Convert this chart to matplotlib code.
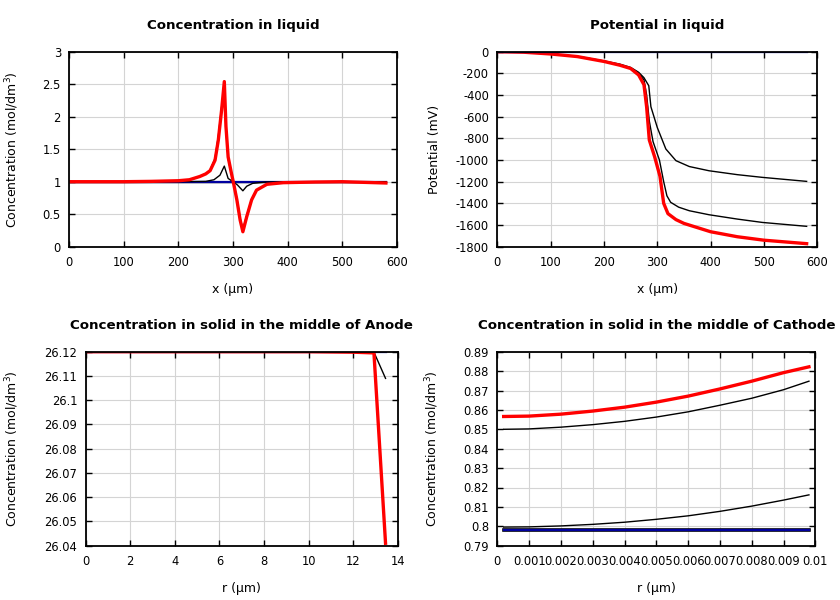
import matplotlib
matplotlib.use("Agg")
import matplotlib.pyplot as plt
from matplotlib.ticker import FuncFormatter, MultipleLocator

# --- concentration in liquid (mol/dm3) vs x (um)
LIQ_X_BLUE = [0, 580]
LIQ_C_BLUE = [1.0, 1.0]
LIQ_X_T1 = [0, 200, 250, 265, 276, 284, 291, 300, 308, 318, 325, 336, 360, 580]
LIQ_C_T1 = [1.0, 1.0, 1.005, 1.03, 1.10, 1.24, 1.05, 1.0, 0.95, 0.86, 0.93, 0.975, 0.995, 1.0]
LIQ_X_RED = [0, 100, 150, 200, 220, 239, 250, 258, 267, 273, 279, 284, 287, 291,
             297, 301, 307, 313, 318, 325, 334, 343, 362, 392, 450, 500, 580]
LIQ_C_T2 = [1.0, 1.0, 1.005, 1.015, 1.03, 1.08, 1.12, 1.18, 1.36, 1.70, 2.15, 2.45, 1.80, 1.35,
            1.12, 0.98, 0.74, 0.44, 0.27, 0.48, 0.73, 0.87, 0.96, 0.985, 0.995, 1.0, 0.985]
LIQ_C_RED = [1.0, 1.0, 1.005, 1.015, 1.03, 1.08, 1.12, 1.17, 1.33, 1.64, 2.10, 2.54, 1.85, 1.38,
             1.13, 0.975, 0.72, 0.41, 0.23, 0.46, 0.72, 0.87, 0.96, 0.985, 0.995, 1.0, 0.98]

# --- potential in liquid (mV)
POT_X_BLUE = [0, 580]
POT_V_BLUE = [0, 0]
POT_X_T1 = [0, 50, 100, 150, 200, 230, 250, 265, 275, 284, 288, 300, 316, 335, 360, 397, 450, 497, 580]
POT_V_T1 = [0, -5, -20, -42, -85, -115, -145, -190, -240, -314, -508, -700, -898, -1006,
            -1060, -1099, -1135, -1160, -1197]
POT_X_T2 = [0, 50, 100, 150, 200, 230, 250, 265, 275, 280, 285, 292, 304, 312, 318, 325,
            340, 360, 397, 450, 497, 580]
POT_V_T2 = [0, -5, -21, -44, -88, -120, -152, -200, -260, -400, -640, -830, -1000, -1200,
            -1330, -1390, -1435, -1468, -1505, -1545, -1576, -1612]
POT_X_RED = [0, 50, 100, 150, 200, 230, 250, 265, 275, 280, 285, 295, 305, 312, 320, 335,
             350, 400, 450, 500, 580]
POT_V_RED = [0, -5, -21, -45, -90, -125, -155, -215, -305, -510, -815, -970, -1150, -1400,
             -1495, -1550, -1585, -1662, -1708, -1740, -1772]

# --- anode particle centre concentration vs r (um)
AN_R = [0, 2, 4, 6, 8, 10, 12, 12.93, 13.45]
AN_C_BLUE = [26.12] * 9
AN_C_T1 = [26.12, 26.12, 26.12, 26.12, 26.12, 26.12, 26.12, 26.1198, 26.109]
AN_C_RED = [26.12, 26.12, 26.12, 26.12, 26.12, 26.12, 26.1198, 26.1195, 26.041]

# --- cathode particle centre concentration vs r (um)
CA_R = [0.0002, 0.001, 0.002, 0.003, 0.004, 0.005, 0.006, 0.007, 0.008, 0.009, 0.0098]
CA_C_BLUE = [0.798] * 11
CA_C_T1 = [0.7996, 0.7997, 0.8002, 0.8010, 0.8021, 0.8036, 0.8054, 0.8077, 0.8104, 0.8135, 0.8162]
CA_C_T2 = [0.8500, 0.8502, 0.8511, 0.8524, 0.8541, 0.8563, 0.8590, 0.8624, 0.8660, 0.8704, 0.8748]
CA_C_RED = [0.8566, 0.8568, 0.8578, 0.8594, 0.8614, 0.8640, 0.8671, 0.8708, 0.8748, 0.8792, 0.8822]

BLUE = "#00009f"
FS = 8.3
plt.rcParams["font.family"] = "DejaVu Sans"
plt.rcParams["font.size"] = FS

fmt = FuncFormatter(lambda v, p: "%g" % round(v, 6))

fig = plt.figure(figsize=(8.4, 6.0), dpi=100)
W, H = 840.0, 600.0


def make_ax(l, r, t, b):
    return fig.add_axes([l / W, 1 - b / H, (r - l) / W, (b - t) / H])


def style(ax, title, xlabel, ylabel, ylab_x):
    ax.set_title(title, fontsize=9.6, fontweight="bold", pad=16)
    ax.set_xlabel(xlabel, fontsize=9, labelpad=10)
    ax.set_ylabel(ylabel, fontsize=9)
    ax.yaxis.set_label_coords(ylab_x, 0.5)
    ax.grid(True, color="#d4d4d4", linewidth=0.8)
    ax.set_axisbelow(True)
    ax.tick_params(direction="in", top=True, right=True, length=4.5, width=1,
                   pad=7, labelsize=FS)
    ax.tick_params(axis="y", pad=6)
    for s in ax.spines.values():
        s.set_linewidth(1.3)
    ax.xaxis.set_major_formatter(fmt)
    ax.yaxis.set_major_formatter(fmt)


ax1 = make_ax(69.3, 396.8, 51.7, 246.7)
ax1.plot(LIQ_X_BLUE, LIQ_C_BLUE, color="k", lw=1.0)
ax1.plot(LIQ_X_BLUE, LIQ_C_BLUE, color=BLUE, lw=1.6)
ax1.plot(LIQ_X_T1, LIQ_C_T1, color="k", lw=1.0)
ax1.plot(LIQ_X_RED, LIQ_C_T2, color="k", lw=1.0)
ax1.plot(LIQ_X_RED, LIQ_C_RED, color="red", lw=2.4)
ax1.set_xlim(0, 600)
ax1.set_ylim(0, 3)
ax1.xaxis.set_major_locator(MultipleLocator(100))
ax1.yaxis.set_major_locator(MultipleLocator(0.5))
style(ax1, "Concentration in liquid", "x (\u00b5m)", "Concentration (mol/dm$^3$)", -0.147)

ax2 = make_ax(497.3, 817.3, 51.7, 246.7)
ax2.plot(POT_X_T1, POT_V_T1, color="k", lw=1.0)
ax2.plot(POT_X_T2, POT_V_T2, color="k", lw=1.0)
ax2.plot(POT_X_RED, POT_V_RED, color="red", lw=2.4)
ax2.plot(POT_X_BLUE, POT_V_BLUE, color=BLUE, lw=1.6)
ax2.set_xlim(0, 600)
ax2.set_ylim(-1800, 0)
ax2.xaxis.set_major_locator(MultipleLocator(100))
ax2.yaxis.set_major_locator(MultipleLocator(200))
style(ax2, "Potential in liquid", "x (\u00b5m)", "Potential (mV)", -0.176)

ax3 = make_ax(85.7, 397.8, 351.7, 545.7)
ax3.plot(AN_R, AN_C_T1, color="k", lw=1.0)
ax3.plot(AN_R, AN_C_BLUE, color=BLUE, lw=1.6)
ax3.plot(AN_R, AN_C_RED, color="red", lw=2.4)
ax3.set_xlim(0, 14)
ax3.set_ylim(26.04, 26.12)
ax3.xaxis.set_major_locator(MultipleLocator(2))
ax3.yaxis.set_major_locator(MultipleLocator(0.01))
style(ax3, "Concentration in solid in the middle of Anode", "r (\u00b5m)",
      "Concentration (mol/dm$^3$)", -0.207)

ax4 = make_ax(497.3, 815.3, 351.7, 545.7)
ax4.plot(CA_R, CA_C_BLUE, color="k", lw=2.6)
ax4.plot(CA_R, CA_C_BLUE, color=BLUE, lw=1.6)
ax4.plot(CA_R, CA_C_T1, color="k", lw=1.0)
ax4.plot(CA_R, CA_C_T2, color="k", lw=1.0)
ax4.plot(CA_R, CA_C_RED, color="red", lw=2.4)
ax4.set_xlim(0, 0.01)
ax4.set_ylim(0.79, 0.89)
ax4.xaxis.set_major_locator(MultipleLocator(0.001))
ax4.yaxis.set_major_locator(MultipleLocator(0.01))
style(ax4, "Concentration in solid in the middle of Cathode", "r (\u00b5m)",
      "Concentration (mol/dm$^3$)", -0.177)

fig.savefig("out.png", dpi=100)
